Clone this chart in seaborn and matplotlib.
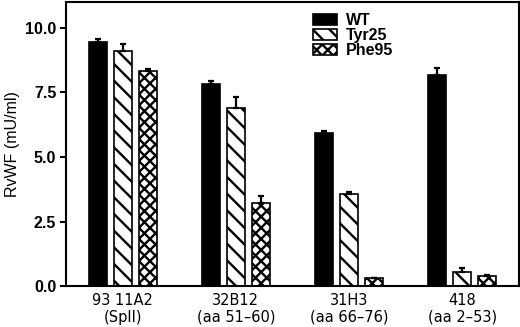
import numpy as np
import pandas as pd
import matplotlib
matplotlib.use("Agg")
import matplotlib.pyplot as plt
import seaborn as sns

# values
antibodies = ["93 11A2\n(SpII)", "32B12\n(aa 51\u201360)", "31H3\n(aa 66\u201376)", "418\n(aa 2\u201353)"]
variants = ["WT", "Tyr25", "Phe95"]
wt = [9.45, 7.83, 5.92, 8.17]
tyr25 = [9.09, 6.91, 3.55, 0.53]
phe95 = [8.32, 3.23, 0.30, 0.39]
wt_err = [0.11, 0.12, 0.10, 0.29]
tyr25_err = [0.28, 0.43, 0.08, 0.16]
phe95_err = [0.09, 0.24, 0.03, 0.03]
yticks = [0.0, 2.5, 5.0, 7.5, 10.0]

sns.set_style("ticks")
plt.rcParams["hatch.linewidth"] = 1.7
plt.rcParams["font.family"] = ["Liberation Sans", "DejaVu Sans"]
plt.rcParams["text.color"] = "black"
plt.rcParams["axes.labelcolor"] = "black"
plt.rcParams["xtick.color"] = "black"
plt.rcParams["ytick.color"] = "black"

df = pd.DataFrame({
    "Antibody": antibodies * 3,
    "Variant": [v for v in variants for _ in antibodies],
    "RvWF": wt + tyr25 + phe95,
})

fig = plt.figure(figsize=(5.2, 3.27), dpi=100)
ax = fig.add_axes([0.127, 0.125, 0.871, 0.869])

sns.barplot(data=df, x="Antibody", y="RvWF", hue="Variant", order=antibodies,
            hue_order=variants, palette=["black", "white", "white"],
            width=0.66, gap=0.28, errorbar=None, edgecolor="black",
            linewidth=1.2, saturation=1, ax=ax)

hatches = [None, "\\\\", "xxx"]
errs = [wt_err, tyr25_err, phe95_err]
for cont, h, e in zip(ax.containers, hatches, errs):
    xs, hs = [], []
    for p in cont.patches:
        if h:
            p.set_hatch(h)
        xs.append(p.get_x() + p.get_width() / 2)
        hs.append(p.get_height())
    ax.errorbar(xs, hs, yerr=[np.zeros(len(e)), e], fmt="none", ecolor="black",
                elinewidth=1.6, capsize=2.5, capthick=1.6, zorder=3)

ax.legend(handles=list(ax.containers), labels=variants, loc="upper left",
          bbox_to_anchor=(0.52, 1.0), frameon=False, handlelength=1.5,
          handleheight=0.75, labelspacing=0.0, handletextpad=0.6,
          borderaxespad=0.3, prop={"weight": "bold", "size": 11.5})

ax.set_xlim(-0.5, 3.5)
ax.set_ylim(0, 11)
ax.set_yticks(yticks)
ax.set_yticklabels([f"{t:.1f}" for t in yticks], fontweight="bold", fontsize=11.5)
ax.set_xticks(range(4))
ax.set_xticklabels(antibodies, family="DejaVu Sans", fontsize=10.5, linespacing=1.15)
ax.tick_params(axis="x", length=0, pad=5)
ax.tick_params(axis="y", length=4, width=1.5, direction="out", pad=3)
ax.set_xlabel("")
ax.set_ylabel("RvWF (mU/ml)", fontsize=11.5, labelpad=4)
for s in ax.spines.values():
    s.set_visible(True)
    s.set_linewidth(1.5)
    s.set_color("black")

fig.savefig("out.png", dpi=100)
